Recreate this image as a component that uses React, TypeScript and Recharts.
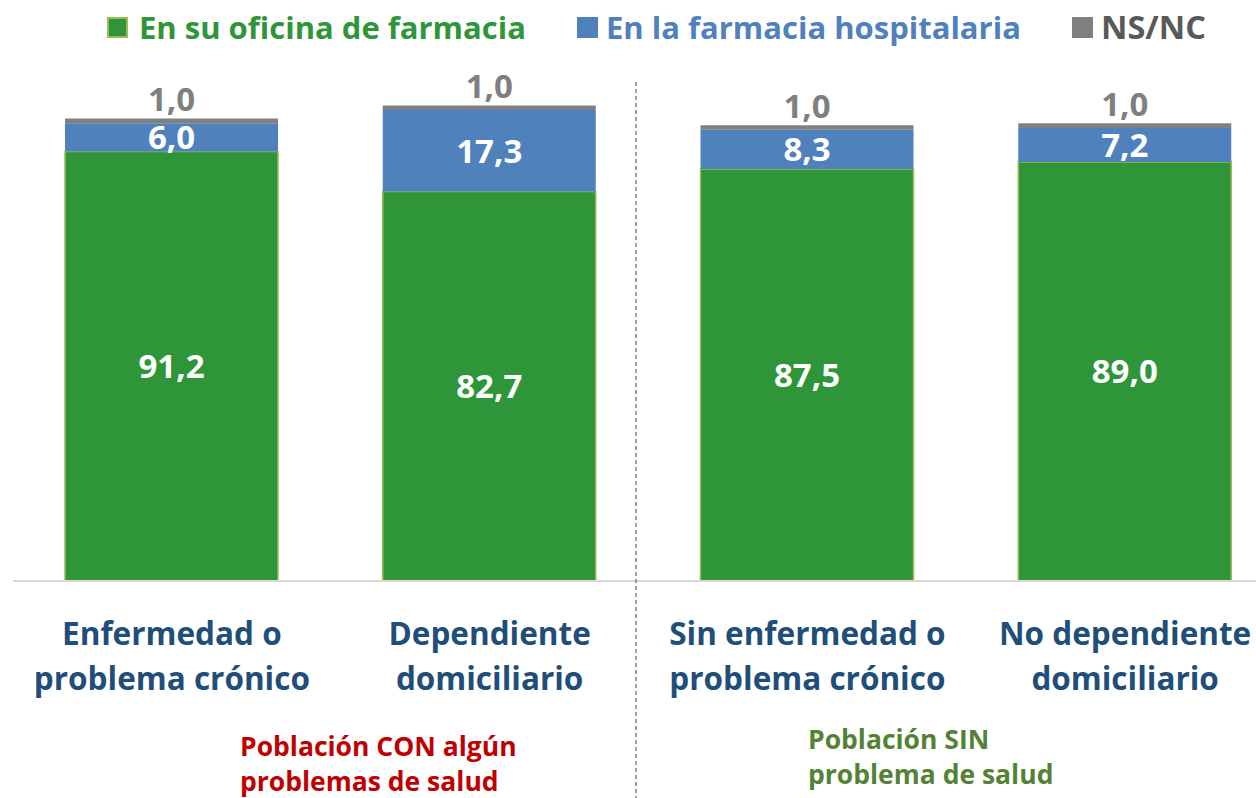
import React from 'react';
import { BarChart, Bar, XAxis, YAxis, LabelList } from 'recharts';

const categories = ['Enfermedad o|problema crónico', 'Dependiente|domiciliario', 'Sin enfermedad o|problema crónico', 'No dependiente|domiciliario'];
const oficina = [91.2, 82.7, 87.5, 89.0];
const hospitalaria = [6.0, 17.3, 8.3, 7.2];
const nsnc = [1.0, 1.0, 1.0, 1.0];
const seriesNames = ['En su oficina de farmacia', 'En la farmacia hospitalaria', 'NS/NC'];
const groupLabels = ['Población CON algún|problemas de salud', 'Población SIN|problema de salud'];

const data = categories.map((c, i) => ({ name: c, oficina: oficina[i], hospitalaria: hospitalaria[i], nsnc: nsnc[i] }));

const FONT = '"Open Sans", sans-serif';
const GREEN = '#2E9639';
const BLUE = '#4F81BD';
const GRAY = '#808080';
const fmt = (v: any) => Number(v).toFixed(1).replace('.', ',');

const Tick = (props: any) => {
  const { x, y, payload } = props;
  const lines = String(payload.value).split('|');
  return (
    <g>
      {lines.map((l, i) => (
        <text key={i} x={x} y={y + 51 + i * 45} textAnchor="middle" dominantBaseline="central" fill="#1F4E79" fontSize={31.5} fontWeight={700} fontFamily={FONT}>{l}</text>
      ))}
    </g>
  );
};

const GrayLabel = (props: any) => {
  const { x, y, width, value } = props;
  return (
    <text x={x + width / 2} y={y - 20} textAnchor="middle" dominantBaseline="central" fill="#7F7F7F" fontSize={33} fontWeight={700} fontFamily={FONT}>{fmt(value)}</text>
  );
};

const legendItems = [
  { name: seriesNames[0], color: GREEN, text: GREEN, sq: 107, tx: 139, border: '#9BBB59', fs: 31 },
  { name: seriesNames[1], color: BLUE, text: BLUE, sq: 577, tx: 606, border: BLUE, fs: 31 },
  { name: seriesNames[2], color: GRAY, text: '#595959', sq: 1072, tx: 1101, border: GRAY, fs: 32.5 },
];

export default function App() {
  return (
    <div style={{ position: 'fixed', left: 0, top: 0, width: 1256, height: 798, overflow: 'hidden', background: '#fff' }}>
      {legendItems.map((it) => (
        <React.Fragment key={it.name}>
          <div style={{ position: 'absolute', left: it.sq, top: 17, width: 21, height: 21, boxSizing: 'border-box', background: it.color, border: `2px solid ${it.border}` }} />
          <div style={{ position: 'absolute', left: it.tx, top: 5, lineHeight: '44px', fontSize: it.fs, fontWeight: 700, color: it.text, fontFamily: FONT, whiteSpace: 'nowrap' }}>{it.name}</div>
        </React.Fragment>
      ))}
      <div style={{ position: 'absolute', left: 0, top: 0 }}>
        <BarChart width={1300} height={798} data={data} margin={{ top: 63, left: 13, right: 16, bottom: 117 }} barSize={213}>
          <YAxis hide domain={[0, 110]} />
          <XAxis dataKey="name" height={100} axisLine={{ stroke: '#D9D9D9', strokeWidth: 2 }} tickLine={false} tickSize={0} tickMargin={0} tick={<Tick />} interval={0} />
          <Bar dataKey="oficina" stackId="a" fill={GREEN} stroke="#9BBB59" strokeWidth={1.5} isAnimationActive={false}>
            <LabelList dataKey="oficina" position="center" formatter={fmt} fill="#fff" fontSize={33} fontWeight={700} fontFamily={FONT} />
          </Bar>
          <Bar dataKey="hospitalaria" stackId="a" fill={BLUE} isAnimationActive={false}>
            <LabelList dataKey="hospitalaria" position="center" formatter={fmt} fill="#fff" fontSize={33} fontWeight={700} fontFamily={FONT} />
          </Bar>
          <Bar dataKey="nsnc" stackId="a" fill={GRAY} isAnimationActive={false}>
            <LabelList dataKey="nsnc" content={<GrayLabel />} />
          </Bar>
        </BarChart>
      </div>
      <svg style={{ position: 'absolute', left: 0, top: 0 }} width={1256} height={798}>
        <line x1={636} x2={636} y1={82} y2={798} stroke="#808080" strokeWidth={1.5} strokeDasharray="4 3" />
      </svg>
      <div style={{ position: 'absolute', left: 240, top: 729, fontSize: 26.5, lineHeight: '35px', fontWeight: 700, color: '#C00000', fontFamily: FONT, whiteSpace: 'pre' }}>
        {groupLabels[0].split('|').join('\n')}
      </div>
      <div style={{ position: 'absolute', left: 808, top: 722, fontSize: 26.5, lineHeight: '35px', fontWeight: 700, color: '#548235', fontFamily: FONT, whiteSpace: 'pre' }}>
        {groupLabels[1].split('|').join('\n')}
      </div>
    </div>
  );
}
